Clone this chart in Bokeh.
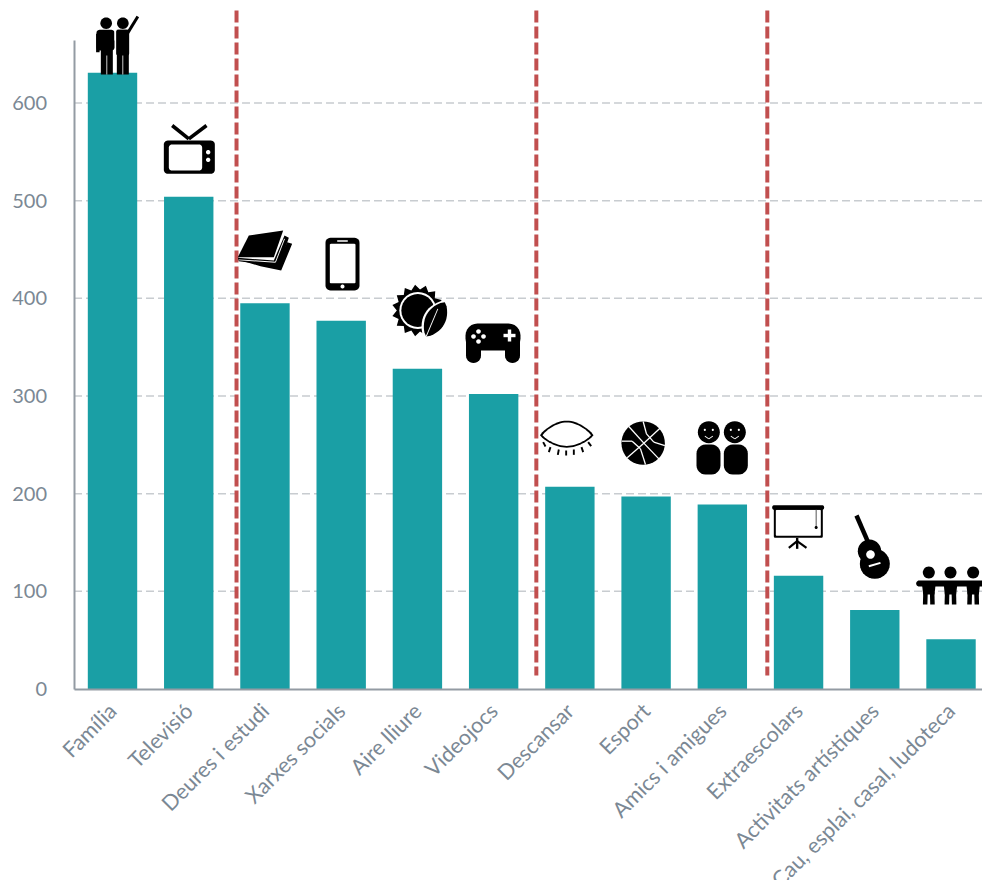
import math
from bokeh.plotting import figure
from bokeh.models import Range1d, FixedTicker
from bokeh.embed import file_html
from bokeh.resources import INLINE

categories = ["Família", "Televisió", "Deures i estudi", "Xarxes socials", "Aire lliure", "Videojocs",
              "Descansar", "Esport", "Amics i amigues", "Extraescolars", "Activitats artístiques",
              "Cau, esplai, casal, ludoteca"]
values = [631, 504, 395, 377, 328, 302, 207, 197, 189, 116, 81, 51]
y_ticks = [0, 100, 200, 300, 400, 500, 600]
group_breaks = [1.627, 5.56, 8.59]

TEAL = "#1a9fa5"
RED = "#c14f4f"
TXT = "#7b8894"
AXC = "#939ba3"
GRID = "#c8ccd0"

# pixel scale of the reference, used to place the decorative pictograms
SX, SY = 76.23, 0.9767
X0, Y0 = 112.0, 688.5
X_LEFT, X_RIGHT = -0.505, 11.413


def to_data(px, py):
    return (px - X0) / SX, (Y0 - py) / SY


p = figure(width=982, height=880, output_backend="svg", toolbar_location=None,
           x_range=Range1d(-1.4693, X_RIGHT), y_range=Range1d(-196.07, 704.94),
           min_border_left=0, min_border_right=0, min_border_top=0, min_border_bottom=0)
p.outline_line_color = None
p.background_fill_color = "white"
p.xgrid.visible = False
p.ygrid.visible = False

grid_ticks = y_ticks[1:]
p.segment(x0=[X_LEFT] * len(grid_ticks), x1=[X_RIGHT] * len(grid_ticks), y0=grid_ticks, y1=grid_ticks,
          line_color=GRID, line_width=1.5, line_dash="8 4")

p.vbar(x=list(range(len(values))), top=values, width=0.648, bottom=0, fill_color=TEAL, line_color=None)

for a in (p.xaxis[0], p.yaxis[0]):
    a.major_tick_line_color = None
    a.minor_tick_line_color = None
    a.axis_line_color = AXC
    a.axis_line_width = 2
    a.major_label_text_color = TXT
    a.major_label_text_font = "Lato"

p.yaxis[0].ticker = FixedTicker(ticks=y_ticks)
p.yaxis[0].bounds = (0, 664)
p.yaxis[0].fixed_location = X_LEFT
p.yaxis[0].major_label_text_font_size = "20px"
p.yaxis[0].major_label_standoff = 21
p.xaxis[0].ticker = FixedTicker(ticks=list(range(len(categories))))
p.xaxis[0].major_label_overrides = {i: c for i, c in enumerate(categories)}
p.xaxis[0].major_label_orientation = math.pi / 4
p.xaxis[0].major_label_text_font_size = "21.5px"
p.xaxis[0].major_label_standoff = 12
p.xaxis[0].fixed_location = 0
p.xaxis[0].bounds = (X_LEFT, X_RIGHT)

p.segment(x0=group_breaks, x1=group_breaks, y0=[694.7] * 3, y1=[13.8] * 3,
          line_color=RED, line_width=4, line_dash="12 4")

# ---- pictograms, built from simple shapes in reference pixels ----
shapes = []


def add(points, color="black"):
    shapes.append((points, color))


def circle(c, r, color="black", n=28):
    add([(c[0] + r * math.cos(2 * math.pi * k / n), c[1] + r * math.sin(2 * math.pi * k / n)) for k in range(n)], color)


def rrect(x0, y0, x1, y1, r, color="black"):
    pts = []
    for cx, cy, a0 in ((x1 - r, y0 + r, -90), (x1 - r, y1 - r, 0), (x0 + r, y1 - r, 90), (x0 + r, y0 + r, 180)):
        for k in range(7):
            a = math.radians(a0 + 15 * k)
            pts.append((cx + r * math.cos(a), cy + r * math.sin(a)))
    add(pts, color)


def seg(a, b, w, color="black"):
    dx, dy = b[0] - a[0], b[1] - a[1]
    L = math.hypot(dx, dy) or 1
    nx, ny = -dy / L * w / 2, dx / L * w / 2
    add([(a[0] + nx, a[1] + ny), (b[0] + nx, b[1] + ny), (b[0] - nx, b[1] - ny), (a[0] - nx, a[1] - ny)], color)


def poly(pts, w, color="black"):
    for a, b in zip(pts[:-1], pts[1:]):
        seg(a, b, w, color)


def z1(x, y):
    return (60 + x / 3, y / 3)


def z2(x, y):
    return (520 + x / 3, 400 + y / 3)


# Família: two people
circle(z1(137, 68), 5.8)
circle(z1(187, 68), 5.8)
rrect(*z1(108, 88), *z1(162, 150), 3)
seg(z1(139, 140), z1(139, 222), 12)
seg(z1(187, 88), z1(187, 222), 12)
rrect(*z1(167, 88), *z1(206, 165), 2)
seg(z1(112, 100), z1(112, 155), 3.5)
seg(z1(200, 100), z1(232, 48), 3)
seg(z1(139, 165), z1(139, 222), 0.8, "white")
seg(z1(187, 165), z1(187, 222), 0.8, "white")
seg(z1(163, 92), z1(163, 120), 0.8, "white")

# Televisió
seg(z1(385, 415), z1(335, 375), 3.6)
seg(z1(385, 415), z1(438, 375), 3.6)
rrect(*z1(310, 420), *z1(463, 520), 4)
rrect(*z1(325, 432), *z1(425, 510), 3, "white")
circle(z1(443, 455), 2.2, "white")
circle(z1(443, 478), 2.2, "white")

# Deures i estudi: books
add([z1(534, 778), z1(650, 790), z1(680, 725), z1(695, 730), z1(662, 810), z1(600, 797)])
add([z1(532, 772), z1(640, 780), z1(672, 705), z1(685, 712), z1(655, 798), z1(535, 782)])
poly([z1(535, 778), z1(645, 785), z1(672, 715)], 0.9, "white")
add([z1(532, 770), z1(565, 705), z1(668, 690), z1(640, 770)])

# Xarxes socials: phone
rrect(*z1(795, 712), *z1(897, 870), 5)
rrect(*z1(808, 730), *z1(885, 848), 1, "white")
rrect(*z1(830, 719), *z1(862, 724), 0.6, "white")
circle(z1(846, 858), 2, "white")

# Aire lliure: sun and leaf
sun_c = z1(1072, 930)
add([(sun_c[0] + (26 if k % 2 == 0 else 21) * math.cos(math.pi * k / 15),
      sun_c[1] + (26 if k % 2 == 0 else 21) * math.sin(math.pi * k / 15)) for k in range(30)])
circle(sun_c, 18.5, "white")
circle(sun_c, 16.5)


def leaf(tip, base, hw, color):
    up, down = [], []
    L = math.hypot(tip[0] - base[0], tip[1] - base[1])
    ux, uy = (tip[0] - base[0]) / L, (tip[1] - base[1]) / L
    for k in range(15):
        t = k / 14
        w = hw * math.sin(math.pi * t) ** 0.7
        px, py = base[0] + ux * L * t, base[1] + uy * L * t
        up.append((px - uy * w, py + ux * w))
        down.append((px + uy * w, py - ux * w))
    add(up + down[::-1], color)


leaf(z1(1156, 900), z1(1092, 1014), 12, "white")
leaf(z1(1153, 905), z1(1097, 1008), 10, "black")
seg(z1(1097, 1008), z1(1132, 925), 0.9, "white")

# Videojocs: gamepad
rrect(465, 323, 520, 350, 12)
seg((473, 340), (473, 355), 15)
seg((512, 340), (512, 355), 15)
circle((473, 355), 7.5)
circle((512, 355), 7.5)
for c in ((478, 331), (473, 336), (483, 336), (478, 341)):
    circle(c, 2.3, "white", 12)
seg((503, 335), (515, 335), 3.4, "white")
seg((509, 329), (509, 341), 3.4, "white")


# Descansar: eye
def lens(x0, x1, ym, h_top, h_bot, color):
    top = [(x0 + (x1 - x0) * k / 24, ym - h_top * math.sin(math.pi * k / 24) ** 0.8) for k in range(25)]
    bot = [(x1 - (x1 - x0) * k / 24, ym + h_bot * math.sin(math.pi * k / 24) ** 0.8) for k in range(25)]
    add(top + bot, color)


lens(539.5, 593, 434.7, 14.5, 12.5, "black")
lens(542, 590.5, 434.7, 12.7, 10.7, "white")
for a, b in (((68, 125), (75, 138)), ((90, 140), (85, 155)), ((115, 147), (112, 163)), ((137, 150), (137, 165)),
             ((160, 147), (160, 163)), ((183, 140), (188, 155)), ((203, 125), (212, 137))):
    seg(z2(*a), z2(*b), 1.9)

# Esport: basketball
circle(z2(368, 128), 21.7, "black", 40)
for line in ([(325, 78), (370, 128), (418, 178)],
             [(420, 82), (370, 128), (320, 172)],
             [(304, 122), (335, 122), (360, 145), (375, 192)],
             [(368, 63), (378, 100), (400, 125), (433, 135)]):
    poly([z2(*q) for q in line], 1.3, "white")

# Amics i amigues
for cx in (565, 643):
    circle(z2(cx, 95), 11)
    circle(z2(cx - 12, 88), 1.1, "white", 10)
    circle(z2(cx + 12, 88), 1.1, "white", 10)
    poly([z2(cx - 12, 107), z2(cx, 115), z2(cx + 12, 107)], 0.8, "white")
rrect(*z2(528, 132), *z2(600, 222), 9)
rrect(*z2(610, 132), *z2(682, 222), 9)

# Extraescolars: projection screen
seg(z2(830, 412), z2(830, 445), 2.4)
seg(z2(830, 422), z2(805, 442), 2.2)
seg(z2(830, 422), z2(858, 442), 2.2)
rrect(*z2(760, 322), *z2(907, 412), 1.5)
rrect(*z2(766, 328), *z2(901, 406), 1, "white")
rrect(*z2(755, 314), *z2(911, 328), 2)
seg(z2(887, 328), z2(887, 380), 1, "#555555")
circle(z2(887, 381), 1.5, "black", 10)

# Activitats artístiques: guitar
seg(z2(1008, 345), z2(1045, 430), 4.5)
circle(z2(1047, 452), 11.7)
circle(z2(1063, 490), 15)
circle(z2(1050, 462), 4.3, "white")
seg(z2(1045, 497), z2(1080, 487), 2, "white")

# Cau, esplai, casal, ludoteca: three people
for cx in (1225, 1290, 1358):
    circle(z2(cx, 516), 6)
    add([z2(cx - 20, 555), z2(cx + 20, 555), z2(cx + 17, 582), z2(cx - 17, 582)])
    seg(z2(cx - 10, 575), z2(cx - 11, 612), 4.5)
    seg(z2(cx + 10, 575), z2(cx + 11, 612), 4.5)
rrect(*z2(1187, 540), *z2(1400, 558), 3)

xs = [[to_data(*q)[0] for q in s[0]] for s in shapes]
ys = [[to_data(*q)[1] for q in s[0]] for s in shapes]
p.patches(xs, ys, fill_color=[s[1] for s in shapes], line_color=None)

open("out.html", "w").write(file_html(p, INLINE))
